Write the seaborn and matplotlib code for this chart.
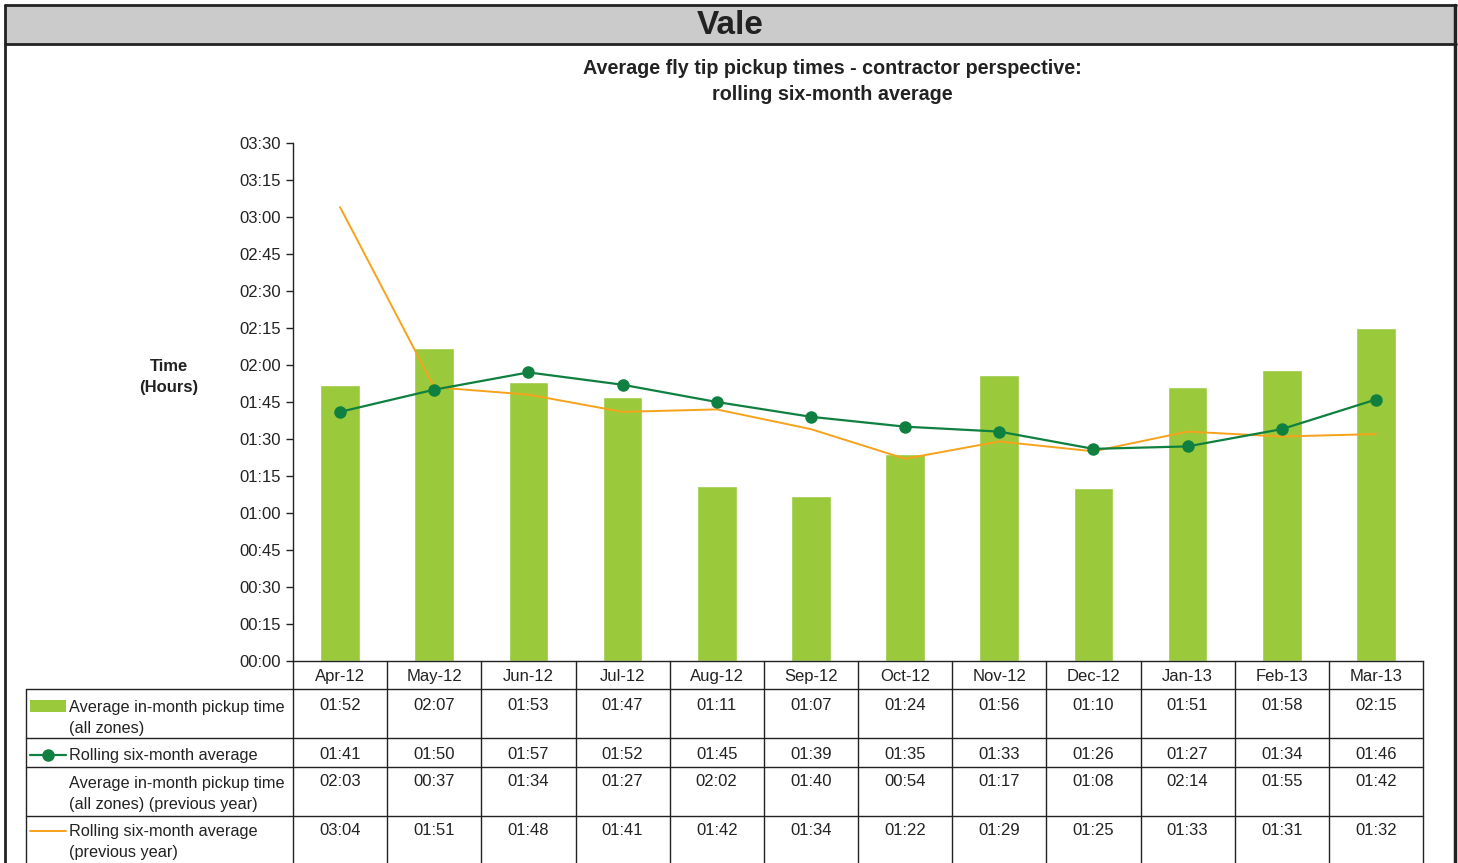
import numpy as np
import pandas as pd
import matplotlib
matplotlib.use("Agg")
import matplotlib.pyplot as plt
import seaborn as sns
from matplotlib.patches import Rectangle
from matplotlib.lines import Line2D

months = ["Apr-12", "May-12", "Jun-12", "Jul-12", "Aug-12", "Sep-12",
          "Oct-12", "Nov-12", "Dec-12", "Jan-13", "Feb-13", "Mar-13"]
in_month = ["01:52", "02:07", "01:53", "01:47", "01:11", "01:07",
            "01:24", "01:56", "01:10", "01:51", "01:58", "02:15"]
rolling = ["01:41", "01:50", "01:57", "01:52", "01:45", "01:39",
           "01:35", "01:33", "01:26", "01:27", "01:34", "01:46"]
in_month_prev = ["02:03", "00:37", "01:34", "01:27", "02:02", "01:40",
                 "00:54", "01:17", "01:08", "02:14", "01:55", "01:42"]
rolling_prev = ["03:04", "01:51", "01:48", "01:41", "01:42", "01:34",
                "01:22", "01:29", "01:25", "01:33", "01:31", "01:32"]

row_labels = ["Average in-month pickup time\n(all zones)",
              "Rolling six-month average",
              "Average in-month pickup time\n(all zones) (previous year)",
              "Rolling six-month average\n(previous year)"]

BAR = "#9ACA3C"
GREEN = "#0F8040"
ORANGE = "#F7A21B"
INK = "#222222"
FS = 12


def to_minutes(values):
    out = []
    for v in values:
        h, m = v.split(":")
        out.append(int(h) * 60 + int(m))
    return np.array(out)


df = pd.DataFrame({
    "month": months,
    "bar": to_minutes(in_month),
    "roll": to_minutes(rolling),
    "roll_prev": to_minutes(rolling_prev),
})
df["pos"] = np.arange(len(months))

sns.set_theme(style="white")
plt.rcParams["font.family"] = ["Liberation Sans", "DejaVu Sans"]

W, H = 1458, 863
fig = plt.figure(figsize=(W / 100, H / 100), dpi=100)


def fx(px):
    return px / W


def fy(py):
    return 1 - py / H


# frame / header overlay
frame = fig.add_axes([0, 0, 1, 1])
frame.set_xlim(0, W)
frame.set_ylim(H, 0)
frame.axis("off")
frame.add_patch(Rectangle((5, 5), 1451, 39, facecolor="#CBCBCB", edgecolor="none"))
frame.plot([5, 1456], [5.5, 5.5], color=INK, lw=2)
frame.plot([5, 1456], [44, 44], color=INK, lw=2)
frame.plot([5.5, 5.5], [5, H], color=INK, lw=2)
frame.plot([1455.5, 1455.5], [5, H], color=INK, lw=2.5)
frame.text(730, 25, "Vale", ha="center", va="center", fontsize=24, fontweight="bold",
           family=["Liberation Sans Narrow", "Liberation Sans", "DejaVu Sans"], color=INK)
frame.text(832, 69, "Average fly tip pickup times - contractor perspective:",
           ha="center", va="center", fontsize=14.2, fontweight="bold", color=INK)
frame.text(832, 95, "rolling six-month average",
           ha="center", va="center", fontsize=14.2, fontweight="bold", color=INK)
frame.text(169, 377, "Time\n(Hours)", ha="center", va="center", fontsize=FS,
           fontweight="bold", color=INK, linespacing=1.45)

# main chart
ax_l, ax_r, ax_t, ax_b = 293, 1423, 143, 661
ax = fig.add_axes([fx(ax_l), fy(ax_b), fx(ax_r - ax_l), fy(ax_t) - fy(ax_b)])
sns.barplot(data=df, x="pos", y="bar", color=BAR, saturation=1, width=0.42,
            ax=ax, zorder=2)
sns.lineplot(data=df, x="pos", y="roll_prev", color=ORANGE, lw=1.4, ax=ax, zorder=3)
sns.lineplot(data=df, x="pos", y="roll", color=GREEN, lw=1.6, marker="o",
             markersize=9, markeredgewidth=0, ax=ax, zorder=4)
ax.set_xlim(-0.5, len(months) - 0.5)
ax.set_ylim(0, 210)
yt = np.arange(0, 211, 15)
ax.set_yticks(yt)
ax.set_yticklabels([f"{t // 60:02d}:{t % 60:02d}" for t in yt], fontsize=FS, color=INK)
ax.set_xticks([])
ax.set_xlabel("")
ax.set_ylabel("")
ax.tick_params(axis="y", left=True, length=5, width=1, color=INK, pad=4)
for s in ["top", "right"]:
    ax.spines[s].set_visible(False)
for s in ["left", "bottom"]:
    ax.spines[s].set_color(INK)
    ax.spines[s].set_linewidth(1)
ax.set_facecolor("none")

# data table in the same x units as the chart
unit = (ax_r - ax_l) / len(months)
tb_left = 26
tab = fig.add_axes([fx(tb_left), 0, fx(ax_r - tb_left), fy(ax_b)])
tab.set_xlim(-0.5 - (ax_l - tb_left) / unit, len(months) - 0.5)
tab.set_ylim(H, ax_b)
tab.axis("off")
x_lab = tab.get_xlim()[0]

row_edges = [689, 738, 767, 816]
for y in row_edges:
    tab.plot([x_lab, len(months) - 0.5], [y, y], color=INK, lw=1, clip_on=False)
tab.plot([x_lab, x_lab], [689, H], color=INK, lw=1, clip_on=False)
for k in range(len(months) + 1):
    tab.plot([k - 0.5, k - 0.5], [ax_b, H], color=INK, lw=1, clip_on=False)

for i, m in enumerate(months):
    tab.text(i, 676, m, ha="center", va="center", fontsize=FS, color=INK)

rows = [in_month, rolling, in_month_prev, rolling_prev]
row_y = [705, 754, 781, 830]
for vals, y in zip(rows, row_y):
    for i, v in enumerate(vals):
        tab.text(i, y, v, ha="center", va="center", fontsize=FS, color=INK)

lab_x = x_lab + (69 - tb_left) / unit
label_y = [707, 755, 783, 831]
for txt, y in zip(row_labels, label_y):
    first, *rest = txt.split("\n")
    tab.text(lab_x, y, first, ha="left", va="center", fontsize=11.7, color=INK)
    for j, line in enumerate(rest, 1):
        tab.text(lab_x, y + 21.5 * j, line, ha="left", va="center", fontsize=11.7, color=INK)

# legend keys
sw0 = x_lab + (30 - tb_left) / unit
sw1 = x_lab + (66 - tb_left) / unit
tab.add_patch(Rectangle((sw0, 700), sw1 - sw0, 12, facecolor=BAR, edgecolor="none"))
tab.add_line(Line2D([sw0, sw1], [755, 755], color=GREEN, lw=1.6))
tab.add_line(Line2D([(sw0 + sw1) / 2], [755], color=GREEN, marker="o",
                    markersize=9, markeredgewidth=0))
tab.add_line(Line2D([sw0, sw1], [831, 831], color=ORANGE, lw=1.4))

fig.savefig("out.png", dpi=100)
